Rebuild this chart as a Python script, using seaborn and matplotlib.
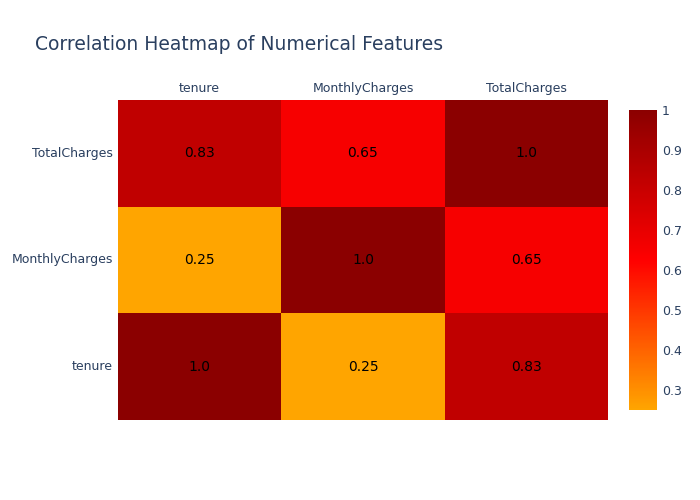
import numpy as np
import pandas as pd
import matplotlib.pyplot as plt
import seaborn as sns
from matplotlib.colors import LinearSegmentedColormap

features = ["tenure", "MonthlyCharges", "TotalCharges"]
corr = [[1.0, 0.25, 0.83],
        [0.25, 1.0, 0.65],
        [0.83, 0.65, 1.0]]
labels = [["1.0", "0.25", "0.83"],
          ["0.25", "1.0", "0.65"],
          ["0.83", "0.65", "1.0"]]

df = pd.DataFrame(corr, index=features, columns=features).iloc[::-1]
annot = np.array(labels)[::-1]

cmap = LinearSegmentedColormap.from_list("ord", ["#FFA500", "#FF0000", "#8B0000"])
txt = "#2a3f5f"

fig = plt.figure(figsize=(7, 5), dpi=100)
ax = fig.add_axes([118/700, 80/500, 490/700, 320/500])
cax = fig.add_axes([629/700, 90/500, 28/700, 300/500])
sns.heatmap(df, ax=ax, cbar_ax=cax, cmap=cmap, vmin=0.25, vmax=1.0,
            annot=annot, fmt="", annot_kws={"color": "black", "fontsize": 10})
ax.xaxis.tick_top()
ax.tick_params(length=0, labelsize=9, labelcolor=txt)
ax.set_xlabel("")
ax.set_ylabel("")
plt.setp(ax.get_yticklabels(), rotation=0)
cax.tick_params(length=0, labelsize=9, labelcolor=txt)
cax.set_yticks([0.3, 0.4, 0.5, 0.6, 0.7, 0.8, 0.9, 1.0])
cax.set_yticklabels(["0.3", "0.4", "0.5", "0.6", "0.7", "0.8", "0.9", "1"])
fig.text(35/700, 1 - 45/500, "Correlation Heatmap of Numerical Features",
         fontsize=13.5, color=txt, va="center")
fig.savefig("out.png")
